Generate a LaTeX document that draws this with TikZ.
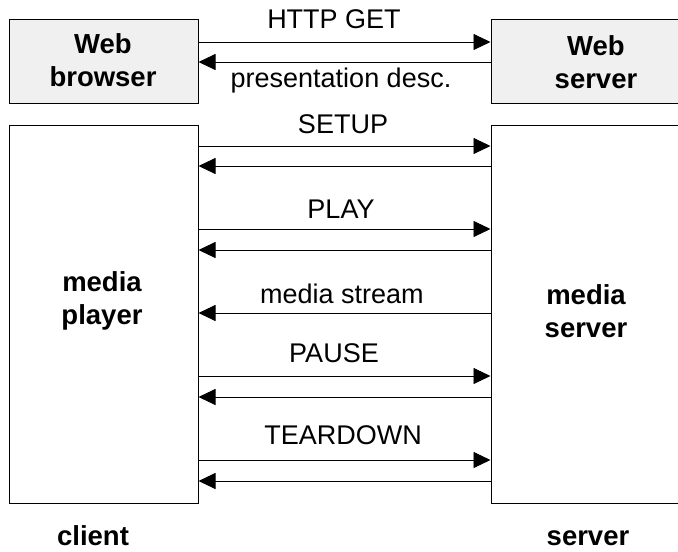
\documentclass[tikz,border=0pt]{standalone}
\usepackage{xcolor}
\usepackage{fontspec}
\setmainfont{Liberation Sans}
\usetikzlibrary{arrows.meta}

\definecolor{boxgray}{RGB}{240,240,240}

\tikzset{
	box/.style = {draw, rectangle, line width = 1pt, inner sep = 0pt},
	webbox/.style = {box, fill = boxgray},
	boxtext/.style = {align = center, font = \fontsize{27.5}{33.5}\selectfont\bfseries},
	msg/.style = {line width = 0.9pt, -{Triangle[length = 17pt, width = 16pt]}},
	msgtext/.style = {anchor = base, font = \fontsize{27}{32}\selectfont},
}

\begin{document}
\begin{tikzpicture}[x = 1pt, y = -1pt]
			\useasboundingbox (0,0) rectangle (678,552);
			\node[webbox, minimum width = 189pt, minimum height = 84pt] (browser) at (103.5,61) {};
			\node[webbox, minimum width = 211pt, minimum height = 84pt] (wserver) at (596.5,61) {};
			\node[box, minimum width = 189pt, minimum height = 378pt] (player) at (103.5,314) {};
			\node[box, minimum width = 211pt, minimum height = 378pt] (mserver) at (596.5,314) {};
			\node[boxtext] (browsertxt) at (103,60) {Web\\browser};
			\node[boxtext] (wservertxt) at (596,62) {Web\\server};
			\node[boxtext] (playertxt) at (102,301) {media\\player};
			\node[boxtext] (mservertxt) at (586,311) {media\\server};
			\node[boxtext, anchor = base] (client) at (93,545) {client};
			\node[boxtext, anchor = base] (server) at (588,545) {server};
			\node[msgtext] (httpget) at (334,28) {HTTP GET};
			\node[msgtext] (desc) at (341,87) {presentation desc.};
			\node[msgtext] (setup) at (343,133) {SETUP};
			\node[msgtext] (play) at (341,218) {PLAY};
			\node[msgtext] (stream) at (342,303) {media stream};
			\node[msgtext] (pause) at (334,362) {PAUSE};
			\node[msgtext] (teardown) at (343,444) {TEARDOWN};
			\draw[msg] (browser.east |- 0,42) -- (wserver.west |- 0,42);
			\draw[msg] (wserver.west |- 0,62) -- (browser.east |- 0,62);
			\draw[msg] (player.east |- 0,146) -- (mserver.west |- 0,146);
			\draw[msg] (mserver.west |- 0,166) -- (player.east |- 0,166);
			\draw[msg] (player.east |- 0,229) -- (mserver.west |- 0,229);
			\draw[msg] (mserver.west |- 0,250) -- (player.east |- 0,250);
			\draw[msg] (mserver.west |- 0,313) -- (player.east |- 0,313);
			\draw[msg] (player.east |- 0,376) -- (mserver.west |- 0,376);
			\draw[msg] (mserver.west |- 0,397) -- (player.east |- 0,397);
			\draw[msg] (player.east |- 0,460) -- (mserver.west |- 0,460);
			\draw[msg] (mserver.west |- 0,481) -- (player.east |- 0,481);
		\end{tikzpicture}
\end{document}
